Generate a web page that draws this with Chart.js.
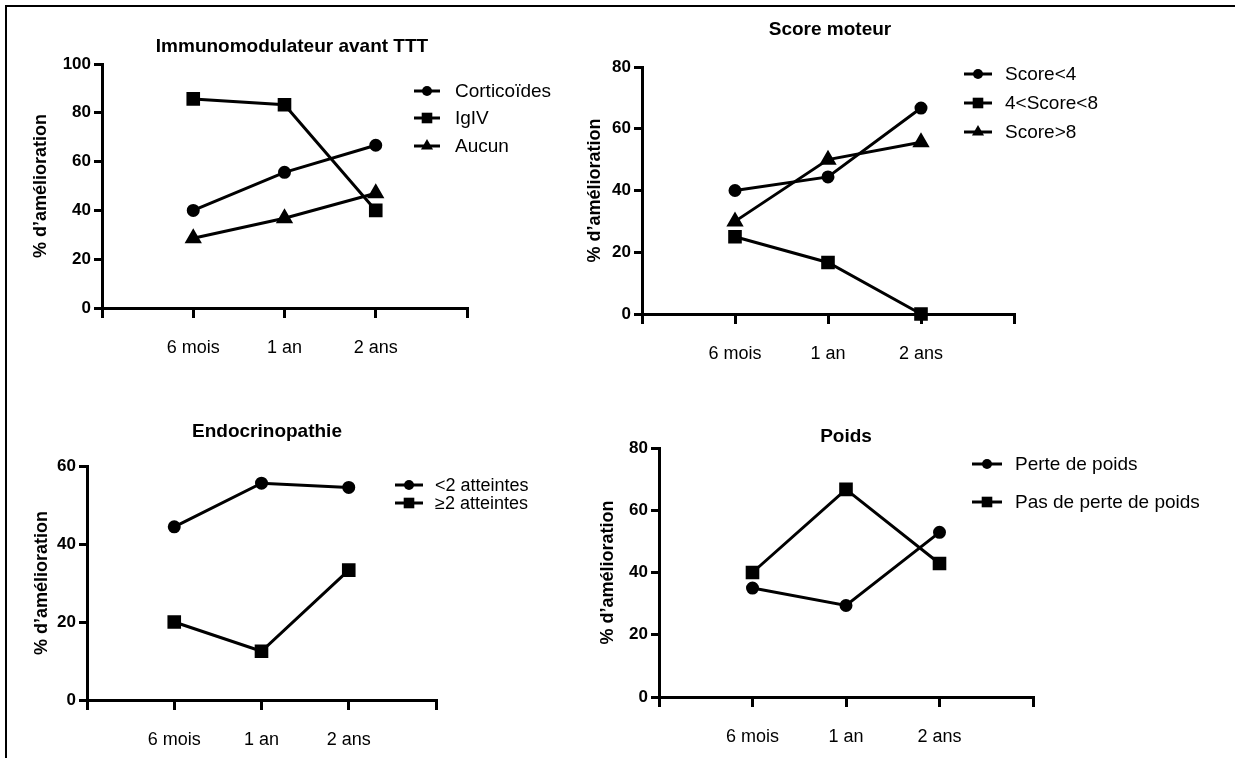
<!DOCTYPE html>
<html>
<head>
<meta charset="utf-8">
<script src="https://cdn.jsdelivr.net/npm/chart.js"></script>
<style>
  html, body { margin: 0; padding: 0; background: #fff; }
  #page { position: relative; width: 1244px; height: 758px; overflow: hidden; }
  #page canvas { position: absolute; left: 0; top: 0; }
  #cadre { position: absolute; left: 5px; top: 5px; width: 1228px; height: 760px;
           border-top: 2px solid #000; border-left: 2px solid #000; }
</style>
</head>
<body>
<div id="page">
  <div id="cadre"></div>
  <canvas id="g1" width="1244" height="758"></canvas>
  <canvas id="g2" width="1244" height="758"></canvas>
  <canvas id="g3" width="1244" height="758"></canvas>
  <canvas id="g4" width="1244" height="758"></canvas>
</div>
<script>
var FONT = '"Liberation Sans", Arial, Helvetica, sans-serif';

// données (% d'amélioration)
var periodes = ['6 mois', '1 an', '2 ans'];

var corticoides = [40, 55.6, 66.7];
var igiv = [85.7, 83.3, 40];
var aucun = [28.6, 36.8, 47];

var score4 = [40, 44.4, 66.7];
var score4a8 = [25, 16.7, 0];
var score8 = [30, 50, 55.6];

var endoMoins2 = [44.4, 55.6, 54.5];
var endoPlus2 = [20, 12.5, 33.3];

var pertePoids = [35, 29.4, 52.9];
var pasPerte = [40, 66.7, 42.9];

var yMax = [100, 80, 60, 80];
var yStep = 20;

function points(vals) {
    return vals.map(function (v, i) { return { x: i + 1, y: v }; });
}

function serie(label, vals, style) {
    var r = style === 'circle' ? 5 : (style === 'rect' ? 7.5 : 7);
    return {
        label: label,
        data: points(vals),
        borderColor: '#000',
        backgroundColor: '#000',
        pointBackgroundColor: '#000',
        pointBorderColor: '#000',
        borderWidth: 3,
        pointStyle: style,
        pointRadius: r,
        pointHoverRadius: r,
        tension: 0,
        clip: false
    };
}

function marker(ctx, style, x, y, r) {
    ctx.beginPath();
    if (style === 'circle') {
        ctx.arc(x, y, r, 0, Math.PI * 2);
    } else if (style === 'rect') {
        var s = r * Math.SQRT1_2;
        ctx.rect(x - s, y - s, 2 * s, 2 * s);
    } else {
        var a = 0;
        ctx.moveTo(x + Math.sin(a) * r, y - Math.cos(a) * r);
        a += Math.PI * 2 / 3;
        ctx.lineTo(x + Math.sin(a) * r, y - Math.cos(a) * r);
        a += Math.PI * 2 / 3;
        ctx.lineTo(x + Math.sin(a) * r, y - Math.cos(a) * r);
        ctx.closePath();
    }
    ctx.fill();
}

// titre + légende (trait avec symbole) façon GraphPad
var decor = {
    id: 'decor',
    afterDraw: function (chart, args, o) {
        var ctx = chart.ctx;
        ctx.save();
        ctx.fillStyle = '#000';
        ctx.strokeStyle = '#000';
        ctx.font = 'bold 19px ' + FONT;
        ctx.textAlign = 'center';
        ctx.textBaseline = 'middle';
        ctx.fillText(o.titre, o.tx, o.ty);

        ctx.font = o.legSize + 'px ' + FONT;
        ctx.textAlign = 'left';
        chart.data.datasets.forEach(function (ds, i) {
            var y = o.rows[i];
            ctx.lineWidth = 3;
            ctx.beginPath();
            ctx.moveTo(o.lx1, y);
            ctx.lineTo(o.lx2, y);
            ctx.stroke();
            marker(ctx, ds.pointStyle, (o.lx1 + o.lx2) / 2, y, ds.pointRadius);
            ctx.fillText(ds.label, o.lxt, y + 1);
        });
        ctx.restore();
    }
};

function graphe(id, datasets, max, zone, dec) {
    var padLeft = zone.yTitre - 10.8;
    var xH = 50;
    new Chart(document.getElementById(id), {
        type: 'line',
        data: { datasets: datasets },
        plugins: [decor],
        options: {
            responsive: false,
            animation: false,
            events: [],
            layout: {
                padding: {
                    left: padLeft,
                    right: 1244 - zone.right,
                    top: zone.top,
                    bottom: 758 - zone.bottom - xH
                }
            },
            plugins: {
                legend: { display: false },
                tooltip: { enabled: false },
                decor: dec
            },
            scales: {
                x: {
                    type: 'linear',
                    min: 0,
                    max: 4,
                    afterFit: function (s) { s.height = xH; },
                    border: { display: true, color: '#000', width: 3 },
                    grid: { drawOnChartArea: false, color: '#000', lineWidth: 3, tickLength: 10 },
                    ticks: {
                        stepSize: 1,
                        padding: 19,
                        color: '#000',
                        font: { family: FONT, size: 18 },
                        callback: function (v) { return periodes[v - 1] || ''; }
                    }
                },
                y: {
                    min: 0,
                    max: max,
                    afterFit: function (s) { s.width = zone.left - padLeft; },
                    border: { display: true, color: '#000', width: 3 },
                    grid: { drawOnChartArea: false, color: '#000', lineWidth: 3, tickLength: 8 },
                    ticks: {
                        stepSize: yStep,
                        padding: 3,
                        color: '#000',
                        font: { family: FONT, size: 17, weight: 'bold' }
                    },
                    title: {
                        display: true,
                        text: '% d\u2019amélioration',
                        color: '#000',
                        padding: 0,
                        font: { family: FONT, size: 18, weight: 'bold', lineHeight: 1.2 }
                    }
                }
            }
        }
    });
}

graphe('g1', [
    serie('Corticoïdes', corticoides, 'circle'),
    serie('IgIV', igiv, 'rect'),
    serie('Aucun', aucun, 'triangle')
], yMax[0], { left: 102, right: 467, top: 64, bottom: 308, yTitre: 41 },
   { titre: 'Immunomodulateur avant TTT', tx: 292, ty: 47, lx1: 414, lx2: 440, lxt: 455, rows: [91, 118, 146], legSize: 19 });

graphe('g2', [
    serie('Score<4', score4, 'circle'),
    serie('4<Score<8', score4a8, 'rect'),
    serie('Score>8', score8, 'triangle')
], yMax[1], { left: 642, right: 1014, top: 67, bottom: 314, yTitre: 595 },
   { titre: 'Score moteur', tx: 830, ty: 30, lx1: 964, lx2: 992, lxt: 1005, rows: [74, 103, 132], legSize: 19 });

graphe('g3', [
    serie('<2 atteintes', endoMoins2, 'circle'),
    serie('\u22652 atteintes', endoPlus2, 'rect')
], yMax[2], { left: 87, right: 436, top: 466, bottom: 700, yTitre: 42 },
   { titre: 'Endocrinopathie', tx: 267, ty: 432, lx1: 395, lx2: 423, lxt: 435, rows: [485, 503], legSize: 18 });

graphe('g4', [
    serie('Perte de poids', pertePoids, 'circle'),
    serie('Pas de perte de poids', pasPerte, 'rect')
], yMax[3], { left: 659, right: 1033, top: 448, bottom: 697, yTitre: 608 },
   { titre: 'Poids', tx: 846, ty: 437, lx1: 972, lx2: 1002, lxt: 1015, rows: [464, 502], legSize: 19 });
</script>
</body>
</html>
